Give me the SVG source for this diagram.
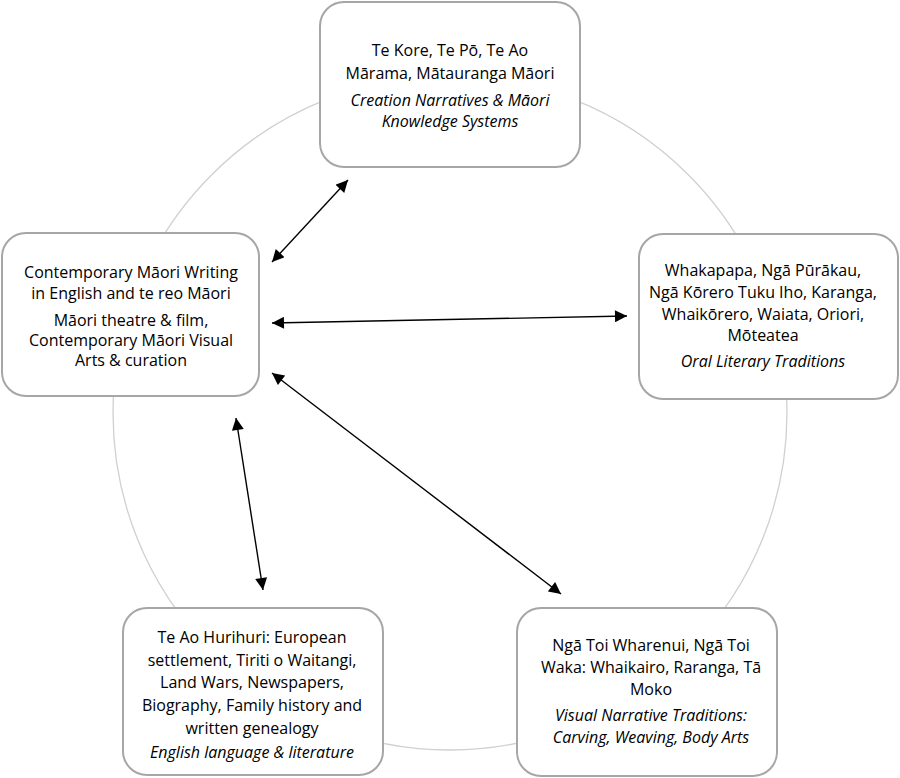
<svg xmlns="http://www.w3.org/2000/svg" width="900" height="778" viewBox="0 0 900 778">
<defs>
<marker id="ah" viewBox="0 0 10 10" refX="10" refY="5" markerWidth="13" markerHeight="12" markerUnits="userSpaceOnUse" orient="auto-start-reverse">
<path d="M0,0 L10,5 L0,10 z" fill="#000"/>
</marker>
<style>
.box{fill:#fff;stroke:#a6a6a6;stroke-width:2}
.t{font-family:"Open Sans",sans-serif;font-size:16px;fill:#000;text-anchor:middle}
.i{font-style:italic}
.c{stroke:#000;stroke-width:1.4;fill:none;marker-start:url(#ah);marker-end:url(#ah)}
</style>
</defs>
<rect width="900" height="778" fill="#fff"/>
<circle cx="450" cy="413" r="337" fill="none" stroke="#d0d0d0" stroke-width="1.3"/>
<g id="connectors">
<line class="c" x1="272" y1="262" x2="348" y2="180"/>
<line class="c" x1="272" y1="323" x2="627" y2="316"/>
<line class="c" x1="236" y1="418" x2="263" y2="590"/>
<line class="c" x1="272" y1="373" x2="561" y2="594"/>
</g>
<g id="node-top">
<rect class="box" x="320" y="2" width="260" height="165" rx="24"/>
<text class="t" x="450" y="56">Te Kore, Te Pō, Te Ao</text>
<text class="t" x="450" y="79">Mārama, Mātauranga Māori</text>
<text class="t i" x="450" y="106">Creation Narratives &amp; Māori</text>
<text class="t i" x="450" y="127">Knowledge Systems</text>
</g>
<g id="node-left">
<rect class="box" x="2" y="233" width="257" height="163" rx="24"/>
<text class="t" x="131" y="278">Contemporary Māori Writing</text>
<text class="t" x="131" y="299">in English and te reo Māori</text>
<text class="t" x="131" y="326">Māori theatre &amp; film,</text>
<text class="t" x="131" y="346">Contemporary Māori Visual</text>
<text class="t" x="131" y="366">Arts &amp; curation</text>
</g>
<g id="node-right">
<rect class="box" x="639" y="234" width="259" height="165" rx="24"/>
<text class="t" x="763" y="276">Whakapapa, Ngā Pūrākau,</text>
<text class="t" x="763" y="298">Ngā Kōrero Tuku Iho, Karanga,</text>
<text class="t" x="763" y="320">Whaikōrero, Waiata, Oriori,</text>
<text class="t" x="763" y="341">Mōteatea</text>
<text class="t i" x="763" y="367">Oral Literary Traditions</text>
</g>
<g id="node-bottom-left">
<rect class="box" x="123" y="608" width="260" height="167" rx="24"/>
<text class="t" x="252" y="643">Te Ao Hurihuri: European</text>
<text class="t" x="252" y="666">settlement, Tiriti o Waitangi,</text>
<text class="t" x="252" y="688">Land Wars, Newspapers,</text>
<text class="t" x="252" y="711">Biography, Family history and</text>
<text class="t" x="252" y="734">written genealogy</text>
<text class="t i" x="252" y="758">English language &amp; literature</text>
</g>
<g id="node-bottom-right">
<rect class="box" x="517" y="608" width="260" height="168" rx="24"/>
<text class="t" x="651" y="651">Ngā Toi Wharenui, Ngā Toi</text>
<text class="t" x="651" y="673">Waka: Whaikairo, Raranga, Tā</text>
<text class="t" x="651" y="695">Moko</text>
<text class="t i" x="651" y="721">Visual Narrative Traditions:</text>
<text class="t i" x="651" y="743">Carving, Weaving, Body Arts</text>
</g>
</svg>
